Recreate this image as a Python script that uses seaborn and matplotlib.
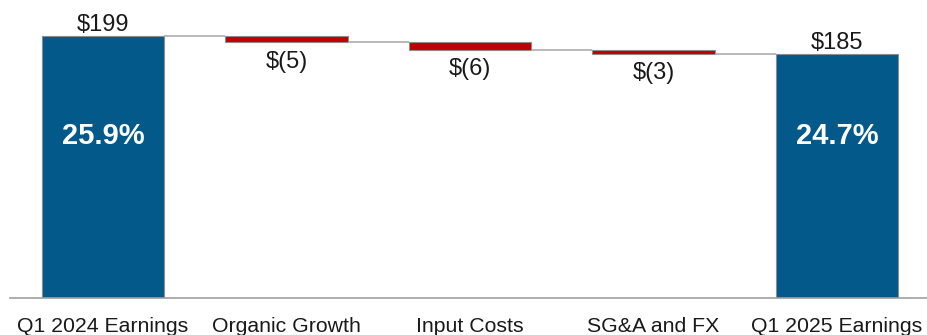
import numpy as np
import pandas as pd
import matplotlib
matplotlib.use("Agg")
import matplotlib.pyplot as plt
import seaborn as sns

categories = ["Q1 2024 Earnings", "Organic Growth", "Input Costs", "SG&A and FX", "Q1 2025 Earnings"]
start_value = 199
changes = [-5, -6, -3]
end_value = 185
margins = ["25.9%", "24.7%"]

blue = "#03598A"
red = "#C00000"
edge = "#8C8C8C"
bar_w = 0.67

sns.set_theme(style="white")
plt.rcParams["font.family"] = ["Liberation Sans", "DejaVu Sans"]

# running levels for the floating bars
levels = start_value + np.cumsum([0] + changes)   # 199, 194, 188, 185
change_cats = categories[1:-1]

fig = plt.figure(figsize=(9.28, 3.35), dpi=100)
ax = fig.add_axes([10 / 928, 37 / 335, 918 / 928, 298 / 335])

totals = pd.DataFrame({"cat": [categories[0], categories[-1]], "val": [start_value, end_value]})
sns.barplot(data=totals, x="cat", y="val", order=categories, color=blue, saturation=1,
            width=bar_w, edgecolor=edge, linewidth=0.8, errorbar=None, ax=ax)

steps = pd.DataFrame({"cat": change_cats, "val": changes})
sns.barplot(data=steps, x="cat", y="val", order=categories, color=red, saturation=1,
            width=bar_w, edgecolor=edge, linewidth=0.8, errorbar=None,
            bottom=levels[:-1], ax=ax)

# connector lines
for i in range(len(categories) - 1):
    ax.hlines(levels[i], i + bar_w / 2, i + 1 - bar_w / 2, color="#A6A6A6", lw=1.1, zorder=1)

# value labels
ax.annotate(f"${start_value}", (0, start_value), xytext=(0, 0), textcoords="offset points",
            ha="center", va="bottom", fontsize=17, color="#1a1a1a")
ax.annotate(f"${end_value}", (4, end_value), xytext=(0, 0), textcoords="offset points",
            ha="center", va="bottom", fontsize=17, color="#1a1a1a")
for i, c in enumerate(changes):
    ax.annotate(f"$({abs(c)})", (i + 1, levels[i + 1]), xytext=(0, -6), textcoords="offset points",
                ha="center", va="top", fontsize=17, color="#1a1a1a")

# margin labels inside the total bars
for x, m in zip([0, 4], margins):
    ax.text(x, 123, m, ha="center", va="center", fontsize=21, fontweight="bold", color="white")

ax.set_xlim(-0.507, 4.496)
ax.set_ylim(0, 226)
ax.set_xlabel("")
ax.set_ylabel("")
ax.set_yticks([])
ax.tick_params(axis="x", length=0, pad=14, labelsize=15.3, colors="#1a1a1a")
for s in ["top", "left", "right"]:
    ax.spines[s].set_visible(False)
ax.spines["bottom"].set_color("#A0A0A0")
ax.spines["bottom"].set_linewidth(1.2)

fig.savefig("out.png", dpi=100)
